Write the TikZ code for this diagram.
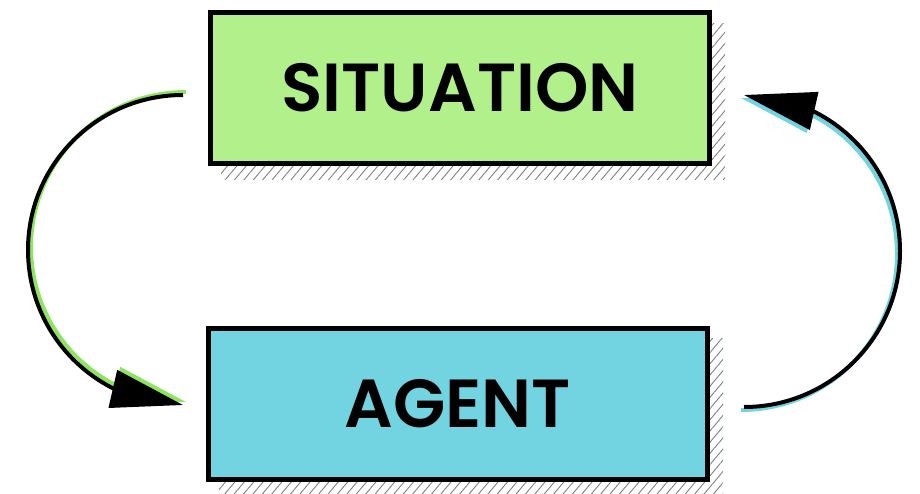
\documentclass[tikz,border=0pt]{standalone}
\usepackage{fontspec}
\setmainfont{Poppins}[BoldFont={Poppins SemiBold}]
\usetikzlibrary{arrows.meta,bending,patterns.meta}
\definecolor{verdecaja}{RGB}{177,240,138}
\definecolor{verdeflecha}{RGB}{140,228,95}
\definecolor{cianocaja}{RGB}{114,212,224}
\tikzset{
  caja/.style={draw, line width=2.5pt, minimum width=249.5pt, minimum height=75.5pt,
    font=\fontsize{34}{40}\selectfont\bfseries, inner sep=0pt},
  sombra/.style={pattern={Lines[angle=50,distance=3.6pt,line width=0.45pt]}, pattern color=gray},
  flecha/.style={line width=2pt, -{Triangle[length=36pt,width=19pt,flex]}}
}
\begin{document}
\begin{tikzpicture}[x=0.5pt,y=-0.5pt]
        \useasboundingbox (0,0) rectangle (920,493);
        % Sombras rayadas
        \fill[sombra] (221,23) rectangle (725,179);
        \fill[sombra] (219,338) rectangle (723,496);
        % Caja superior
        \node[caja, fill=verdecaja] (situation) at (460,88) {SITUATION};
        % Caja inferior
        \node[caja, fill=cianocaja] (agent) at (458,404) {AGENT};
        % Flecha izquierda (situacion a agente)
        \coordinate (s1) at ([xshift=-12.5pt,yshift=-3.5pt]situation.west);
        \draw[flecha, verdeflecha] ([shift={(3,-3)}]s1) arc[start angle=270, end angle=90, radius=155];
        \draw[flecha] (s1) arc[start angle=270, end angle=90, radius=155];
        % Flecha derecha (agente a situacion)
        \coordinate (a2) at ([xshift=17pt,yshift=-1.5pt]agent.east);
        \draw[flecha, cianocaja] ([shift={(-3,3)}]a2) arc[start angle=90, end angle=-90, radius=156];
        \draw[flecha] (a2) arc[start angle=90, end angle=-90, radius=156];
    \end{tikzpicture}
\end{document}
